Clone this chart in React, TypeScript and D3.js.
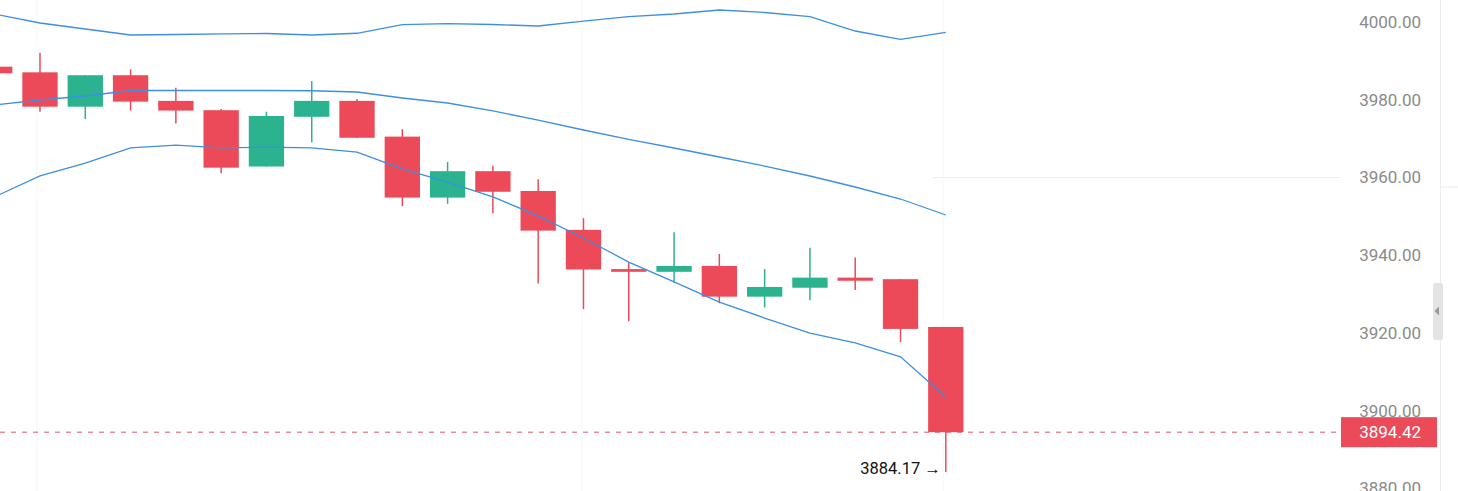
import React from "react";
import * as d3 from "d3";

const opens = [3988.5, 3987.05, 3978.2, 3986.3, 3979.7, 3977.3, 3962.8, 3975.6, 3979.7, 3970.5, 3954.8, 3961.6, 3956.5, 3946.5, 3936.4, 3935.7, 3937.2, 3929.3, 3931.6, 3934.2, 3933.8, 3921.5];
const highs = [3989.5, 3992.1, 3986.3, 3987.8, 3983.1, 3977.6, 3976.9, 3984.8, 3980.2, 3972.4, 3964.0, 3963.0, 3959.5, 3949.5, 3938.1, 3945.9, 3940.3, 3936.4, 3941.9, 3939.4, 3933.8, 3921.5];
const lows = [3986.0, 3976.9, 3975.0, 3977.2, 3973.9, 3961.05, 3962.8, 3969.0, 3970.2, 3952.6, 3953.2, 3950.8, 3932.7, 3926.1, 3923.0, 3932.9, 3927.6, 3926.5, 3928.4, 3931.0, 3917.6, 3884.17];
const closes = [3986.8, 3978.2, 3986.3, 3979.5, 3977.2, 3962.5, 3975.8, 3979.7, 3970.2, 3954.8, 3961.6, 3956.3, 3946.3, 3936.3, 3935.7, 3937.2, 3929.3, 3931.8, 3934.2, 3933.4, 3921.0, 3894.42];

const bbUpper = [4002.06, 3999.74, 3998.2, 3996.65, 3996.78, 3996.96, 3997.04, 3996.65, 3997.1, 3999.3, 3999.56, 3999.36, 3998.97, 4000.2, 4001.36, 4002.06, 4003.09, 4002.45, 4001.36, 3997.68, 3995.55, 3997.35];
const bbMiddle = [3978.64, 3979.92, 3980.95, 3982.37, 3982.37, 3982.37, 3982.37, 3982.3, 3981.98, 3980.44, 3979.15, 3977.1, 3974.77, 3972.2, 3969.76, 3967.57, 3965.25, 3962.93, 3960.36, 3957.53, 3954.44, 3950.32];
const bbLower = [3955.0, 3960.4, 3963.7, 3967.6, 3968.3, 3967.6, 3967.8, 3967.6, 3966.5, 3962.2, 3958.8, 3955.0, 3950.1, 3944.4, 3938.2, 3933.1, 3927.9, 3923.8, 3919.9, 3917.4, 3913.8, 3903.5];

const yTicks = [4000, 3980, 3960, 3940, 3920, 3900, 3880];
const lastPrice = 3894.42;
const lowMarker = 3884.17;

const W = 1458;
const H = 491;
const PLOT_RIGHT = 1341;

const RED = "#ec4a59";
const GREEN = "#2ab38e";
const BLUE = "#3c8fe3";

export default function App() {
  const n = closes.length;
  const x = d3.scaleLinear().domain([0, n - 1]).range([-5.3, 945.8]);
  const y = d3.scaleLinear().domain([3880, 4000]).range([488.2, 22]);
  const step = x(1) - x(0);
  const bw = step * 0.78;

  const line = d3
    .line<number>()
    .x((_, i) => x(i))
    .y((d) => y(d))
    .curve(d3.curveLinear);

  const idx = d3.range(n);
  const font = "Roboto, 'Noto Sans', sans-serif";

  return (
    <svg
      width={W}
      height={H}
      style={{ position: "absolute", left: 0, top: 0, background: "#ffffff" }}
    >
      <defs>
        <clipPath id="plotClip">
          <rect x={0} y={0} width={PLOT_RIGHT} height={H} />
        </clipPath>
      </defs>

      {/* faint grid */}
      {[37, 582, 943].map((gx) => (
        <line key={gx} x1={gx} x2={gx} y1={0} y2={H} stroke="#f7f7f7" strokeWidth={1} />
      ))}
      <line x1={933} x2={PLOT_RIGHT} y1={y(3960)} y2={y(3960)} stroke="#eeeeee" strokeWidth={1} />

      <g clipPath="url(#plotClip)">
        {/* candles */}
        {idx.map((i) => {
          const o = opens[i];
          const c = closes[i];
          const up = c >= o;
          const col = up ? GREEN : RED;
          const top = y(Math.max(o, c));
          const bot = y(Math.min(o, c));
          const cx = x(i);
          return (
            <g key={i}>
              <line x1={cx} x2={cx} y1={y(highs[i])} y2={y(lows[i])} stroke={col} strokeWidth={1.5} />
              <rect x={cx - bw / 2} y={top} width={bw} height={Math.max(2.5, bot - top)} fill={col} />
            </g>
          );
        })}

        {/* Bollinger bands */}
        <path d={line(bbUpper) || ""} fill="none" stroke={BLUE} strokeWidth={1.3} />
        <path d={line(bbMiddle) || ""} fill="none" stroke={BLUE} strokeWidth={1.3} />
        <path d={line(bbLower) || ""} fill="none" stroke={BLUE} strokeWidth={1.3} />
      </g>

      {/* last price dashed line */}
      <line
        x1={0}
        x2={PLOT_RIGHT}
        y1={y(lastPrice)}
        y2={y(lastPrice)}
        stroke="#d9566a"
        strokeWidth={1}
        strokeDasharray="5,6"
      />

      {/* low marker */}
      <text
        x={x(n - 1) - 5}
        y={y(lowMarker) - 2}
        textAnchor="end"
        fontFamily={font}
        fontSize={16.5}
        fill="#111111"
        dominantBaseline="middle"
      >
        {lowMarker.toFixed(2) + " \u2192"}
      </text>

      {/* y axis labels */}
      {yTicks.map((t) => (
        <text
          key={t}
          x={1421}
          y={y(t)}
          textAnchor="end"
          dominantBaseline="central"
          fontFamily={font}
          fontSize={17}
          fill="#8a8a8a"
        >
          {t.toFixed(2)}
        </text>
      ))}

      {/* last price label */}
      <rect x={PLOT_RIGHT} y={y(lastPrice) - 15} width={96} height={30} fill={RED} />
      <text
        x={1421}
        y={y(lastPrice)}
        textAnchor="end"
        dominantBaseline="central"
        fontFamily={font}
        fontSize={17}
        fill="#ffffff"
      >
        {lastPrice.toFixed(2)}
      </text>

      {/* right side separator and handle */}
      <line x1={1440.5} x2={1440.5} y1={0} y2={H} stroke="#ececec" strokeWidth={1} />
      <line x1={1441} x2={W} y1={187} y2={187} stroke="#ececec" strokeWidth={1} />
      <rect x={1433} y={283} width={10} height={57} rx={2} fill="#e4e4e4" />
      <path d="M1434.5,311 L1439,306.5 L1439,315.5 Z" fill="#9a9a9a" />
    </svg>
  );
}
